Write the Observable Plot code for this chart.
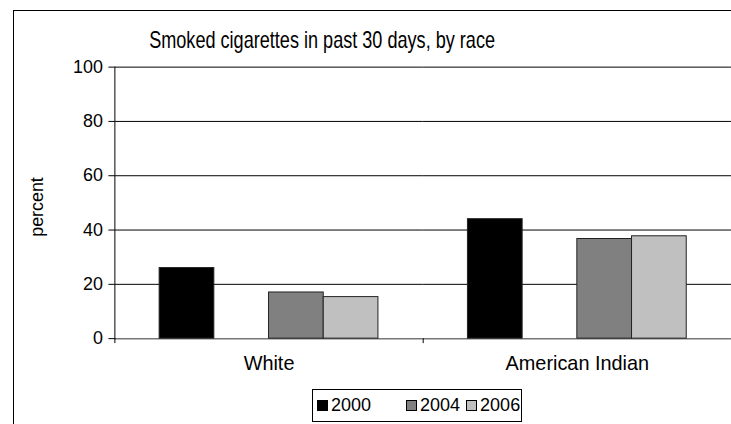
<!DOCTYPE html>
<html>
<head>
<meta charset="utf-8">
<script src="https://cdn.jsdelivr.net/npm/d3@7"></script>
<script src="https://cdn.jsdelivr.net/npm/@observablehq/plot@0.6"></script>
<style>
  html, body { margin: 0; padding: 0; background: #fff; overflow: hidden; }
  #wrap { position: relative; width: 731px; height: 424px; overflow: hidden; font-family: "Liberation Sans", Arial, sans-serif; }
  #border { position: absolute; left: 13px; top: 10px; width: 800px; height: 500px; border-top: 1px solid #000; border-left: 1px solid #000; box-sizing: border-box; }
  #title { position: absolute; left: 150px; top: 30px; font-size: 18px; line-height: 20px; white-space: nowrap; color: #000; transform: scale(1.005, 1.3); transform-origin: 50% 50%; }
  #ylabel { position: absolute; left: 37px; top: 207px; font-size: 17px; transform: translate(-50%, -50%) rotate(-90deg) scale(1.05, 1.1); white-space: nowrap; }
  #chart { position: absolute; left: 0; top: 0; }
  #legend { position: absolute; left: 312px; top: 389px; width: 210px; height: 33px; border: 1px solid #000; box-sizing: border-box; background: #fff; display: flex; align-items: center; font-size: 18px; }
  .sw { display: inline-block; width: 9px; height: 9px; border: 1px solid #000; margin-right: 3px; }
  .item { display: flex; align-items: center; }
</style>
</head>
<body>
<div id="wrap">
  <div id="border"></div>
  <div id="chart"></div>
  <div id="title"></div>
  <div id="ylabel"></div>
  <div id="legend"></div>
</div>
<script>
const titleText = "Smoked cigarettes in past 30 days, by race";
const yLabel = "percent";
const races = ["White", "American Indian"];
const years = ["2000", "2002", "2004", "2006"]; // 2002 is an empty slot in the original
const legendYears = ["2000", "2004", "2006"];
const whiteValues = [26, null, 17, 15.3];
const amIndianValues = [44, null, 36.7, 37.7];
const yTicks = [0, 20, 40, 60, 80, 100];
const yearColors = ["#000000", "#ffffff", "#808080", "#c0c0c0"];

const rows = [];
[whiteValues, amIndianValues].forEach((vals, i) => {
  vals.forEach((v, j) => { if (v != null) rows.push({race: races[i], year: years[j], value: v}); });
});

document.getElementById("title").textContent = titleText;
document.getElementById("ylabel").textContent = yLabel;

const W = 735, ML = 115, MR = 0;
const facetW = (W - ML - MR) / races.length;

const chart = Plot.plot({
  width: W,
  height: 385,
  marginTop: 67,
  marginBottom: 45,
  marginLeft: ML,
  marginRight: MR,
  style: {fontFamily: "'Liberation Sans', Arial, sans-serif", fontSize: "18px", color: "#000", background: "transparent"},
  fx: {domain: races, padding: 0, label: null},
  x: {domain: years, paddingInner: 0, paddingOuter: 0.768, axis: null},
  y: {domain: [0, 100], axis: null},
  color: {domain: years, range: yearColors},
  marks: [
    Plot.gridY(yTicks.filter(d => d > 0), {stroke: "#000", strokeOpacity: 1}),
    Plot.ruleY([0], {stroke: "#777", strokeWidth: 1.5}),
    Plot.barY(rows, {fx: "race", x: "year", y: "value", fill: "year", stroke: "#222", strokeWidth: 1, inset: 0}),
    Plot.frame({anchor: "left", facetAnchor: "left", stroke: "#000"}),
    Plot.axisY({ticks: yTicks, tickSize: 6, tickPadding: 6, label: null, fontSize: 18, stroke: "#000"}),
    Plot.axisFx({anchor: "bottom", tickSize: 0, tickPadding: 17, label: null, fontSize: 20}),
    Plot.axisFx({anchor: "bottom", tickSize: 5, text: null, label: null, dx: -facetW / 2, stroke: "#000"})
  ]
});
document.getElementById("chart").appendChild(chart);

const legend = document.getElementById("legend");
legendYears.forEach((y, i) => {
  const item = document.createElement("div");
  item.className = "item";
  item.style.marginLeft = i === 0 ? "4px" : (i === 1 ? "35px" : "6px");
  const sw = document.createElement("span");
  sw.className = "sw";
  sw.style.background = yearColors[years.indexOf(y)];
  const t = document.createElement("span");
  t.textContent = y;
  item.appendChild(sw);
  item.appendChild(t);
  legend.appendChild(item);
});
</script>
</body>
</html>
